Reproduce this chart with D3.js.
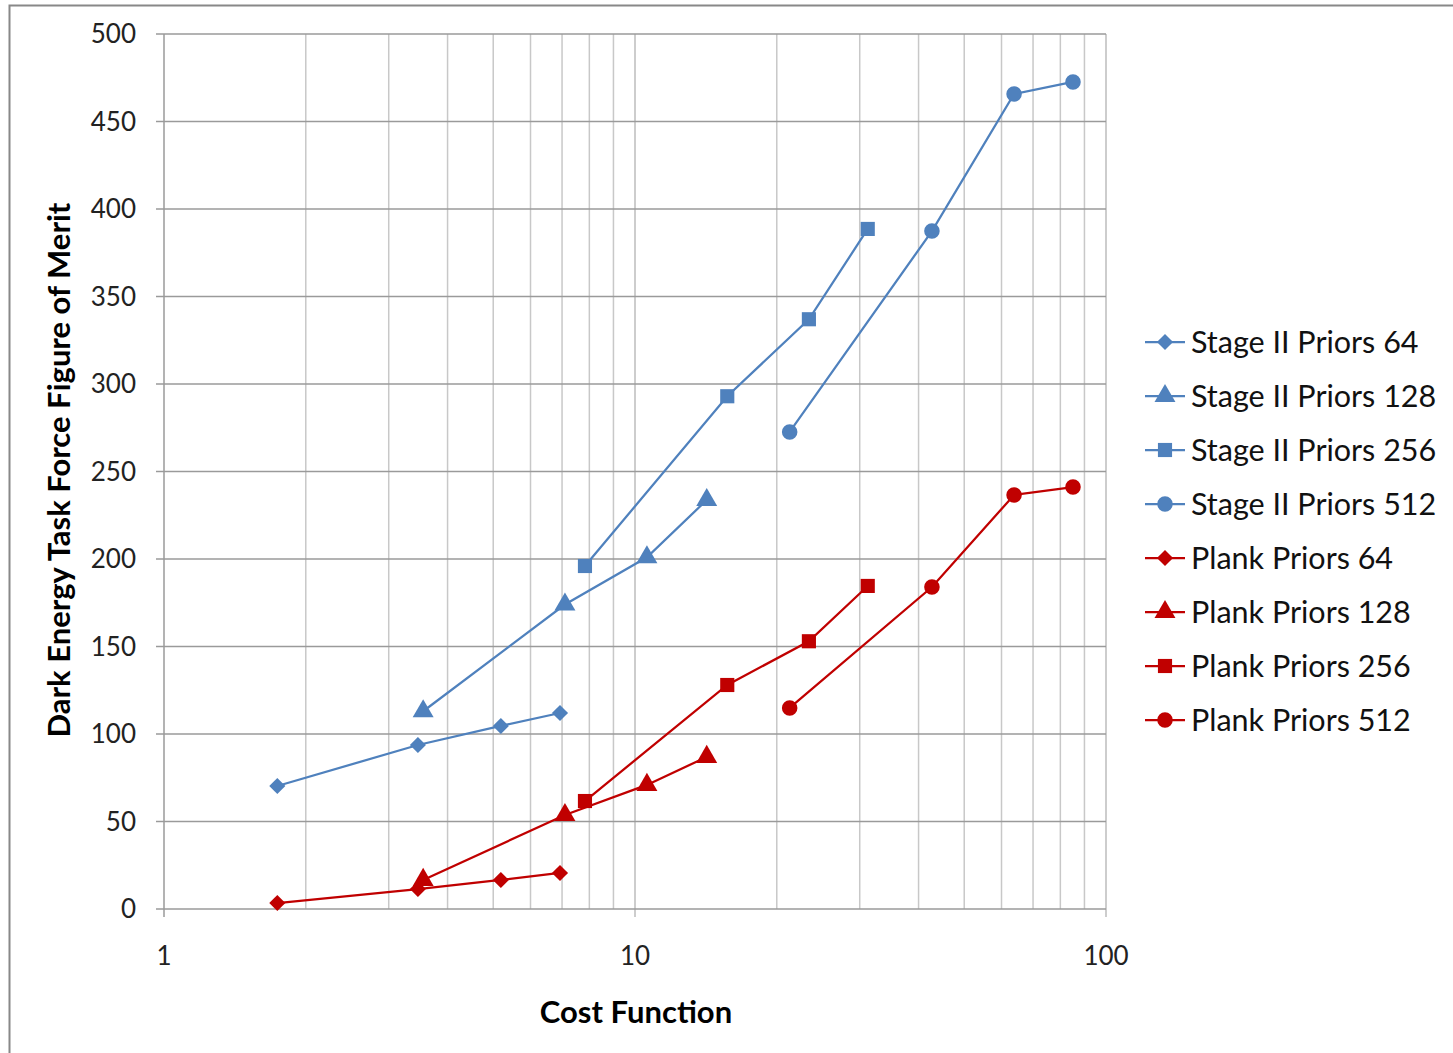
<!DOCTYPE html>
<html>
<head>
<meta charset="utf-8">
<script src="https://cdn.jsdelivr.net/npm/d3@7"></script>
<style>
  body { margin: 0; background: #fff; }
  svg { display: block; font-family: Lato, "Open Sans", sans-serif; }
</style>
</head>
<body>
<div id="chart"></div>
<script>
const seriesNames = [
  'Stage II Priors 64', 'Stage II Priors 128', 'Stage II Priors 256', 'Stage II Priors 512',
  'Plank Priors 64', 'Plank Priors 128', 'Plank Priors 256', 'Plank Priors 512'
];
const cost64 = [1.74, 3.46, 5.19, 6.93];
const cost128 = [3.55, 7.1, 10.6, 14.2];
const cost256 = [7.83, 15.7, 23.4, 31.2];
const cost512 = [21.3, 42.7, 63.8, 85.1];
const stage64 = [70.3, 93.7, 104.6, 112];
const stage128 = [113, 174, 201, 233.7];
const stage256 = [196, 293, 337, 388.6];
const stage512 = [272.6, 387.4, 465.7, 472.6];
const plank64 = [3.4, 11.4, 16.6, 20.6];
const plank128 = [16.6, 53.7, 70.9, 86.9];
const plank256 = [61.7, 128, 153, 184.6];
const plank512 = [114.9, 184, 236.6, 241.1];
const yTicks = [0, 50, 100, 150, 200, 250, 300, 350, 400, 450, 500];
const xTicks = [1, 10, 100];

const blue = '#4F81BD', red = '#C00000';
const series = [
  { name: seriesNames[0], x: cost64, y: stage64, color: blue, shape: 'diamond' },
  { name: seriesNames[1], x: cost128, y: stage128, color: blue, shape: 'triangle' },
  { name: seriesNames[2], x: cost256, y: stage256, color: blue, shape: 'square' },
  { name: seriesNames[3], x: cost512, y: stage512, color: blue, shape: 'circle' },
  { name: seriesNames[4], x: cost64, y: plank64, color: red, shape: 'diamond' },
  { name: seriesNames[5], x: cost128, y: plank128, color: red, shape: 'triangle' },
  { name: seriesNames[6], x: cost256, y: plank256, color: red, shape: 'square' },
  { name: seriesNames[7], x: cost512, y: plank512, color: red, shape: 'circle' }
];

const W = 1453, H = 1053;
const margin = { left: 164, right: 347, top: 34, bottom: 144 };
const width = W - margin.left - margin.right;
const height = H - margin.top - margin.bottom;

const svg = d3.select('#chart').append('svg')
  .attr('width', W).attr('height', H);

// outer chart border
svg.append('rect')
  .attr('x', 9.5).attr('y', 5.5)
  .attr('width', W + 20).attr('height', H + 20)
  .attr('fill', 'none').attr('stroke', '#888').attr('stroke-width', 2);

const x = d3.scaleLog().domain([1, 100]).range([0, width]);
const y = d3.scaleLinear().domain([0, 500]).range([height, 0]);

const g = svg.append('g').attr('transform', `translate(${margin.left},${margin.top})`);

// minor vertical grid
const minor = [];
for (let d = 1; d < 100; d *= 10) for (let k = 2; k <= 9; k++) minor.push(d * k);
g.selectAll('.vminor').data(minor).enter().append('line')
  .attr('x1', d => x(d)).attr('x2', d => x(d))
  .attr('y1', 0).attr('y2', height)
  .attr('stroke', '#c8c8c8').attr('stroke-width', 1.5);

// major vertical grid
g.selectAll('.vmajor').data(xTicks).enter().append('line')
  .attr('x1', d => x(d)).attr('x2', d => x(d))
  .attr('y1', 0).attr('y2', height + 8)
  .attr('stroke', d => d === 1 ? '#9a9a9a' : '#bdbdbd').attr('stroke-width', 1.5);

// horizontal grid
g.selectAll('.hgrid').data(yTicks).enter().append('line')
  .attr('x1', -8).attr('x2', width)
  .attr('y1', d => y(d)).attr('y2', d => y(d))
  .attr('stroke', '#9a9a9a').attr('stroke-width', 1.5);

// axes labels
g.selectAll('.ylab').data(yTicks).enter().append('text')
  .attr('x', -28).attr('y', d => y(d))
  .attr('dy', '0.35em').attr('text-anchor', 'end')
  .style('font-size', '26px').style('fill', '#222')
  .text(d => d);

g.selectAll('.xlab').data(xTicks).enter().append('text')
  .attr('x', d => x(d)).attr('y', height + 56)
  .attr('text-anchor', 'middle')
  .style('font-size', '26px').style('fill', '#222')
  .text(d => d);

svg.append('text')
  .attr('x', margin.left + width / 2 + 1).attr('y', 1023)
  .attr('text-anchor', 'middle')
  .style('font-size', '31px').style('font-weight', 'bold')
  .text('Cost Function');

svg.append('text')
  .attr('transform', `translate(70,${470}) rotate(-90)`)
  .attr('text-anchor', 'middle')
  .style('font-size', '31px').style('font-weight', 'bold')
  .text('Dark Energy Task Force Figure of Merit');

const diamondType = {
  draw(ctx, size) {
    const r = Math.sqrt(size / 2);
    ctx.moveTo(0, -r); ctx.lineTo(r, 0); ctx.lineTo(0, r); ctx.lineTo(-r, 0); ctx.closePath();
  }
};
const symbolFor = {
  diamond: d3.symbol().type(diamondType).size(130),
  triangle: d3.symbol().type(d3.symbolTriangle).size(190),
  square: d3.symbol().type(d3.symbolSquare).size(200),
  circle: d3.symbol().type(d3.symbolCircle).size(190)
};

const line = d3.line().x(d => x(d[0])).y(d => y(d[1]));

series.forEach(s => {
  const pts = s.x.map((v, i) => [v, s.y[i]]);
  g.append('path').datum(pts)
    .attr('d', line).attr('fill', 'none')
    .attr('stroke', s.color).attr('stroke-width', 2.25);
  g.selectAll(null).data(pts).enter().append('path')
    .attr('transform', d => `translate(${x(d[0])},${y(d[1])})`)
    .attr('d', symbolFor[s.shape]())
    .attr('fill', s.color);
});

// legend
const legend = svg.append('g').attr('transform', 'translate(1145,342)');
series.forEach((s, i) => {
  const row = legend.append('g').attr('transform', `translate(0,${i * 54})`);
  row.append('line').attr('x1', 0).attr('x2', 40).attr('y1', 0).attr('y2', 0)
    .attr('stroke', s.color).attr('stroke-width', 2.25);
  row.append('path').attr('transform', 'translate(20,0)')
    .attr('d', symbolFor[s.shape]()).attr('fill', s.color);
  row.append('text').attr('x', 46).attr('y', 0).attr('dy', '0.35em')
    .style('font-size', '30.5px').style('fill', '#111')
    .text(s.name);
});
</script>
</body>
</html>
